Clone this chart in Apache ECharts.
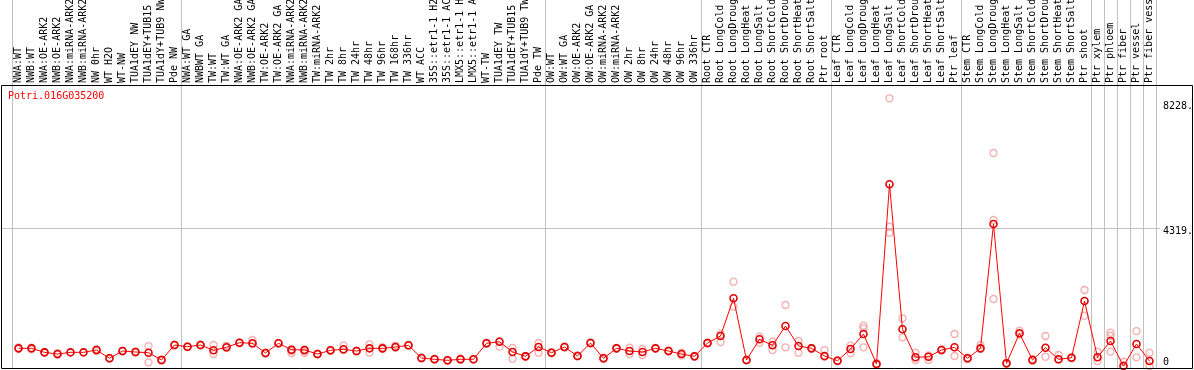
<!DOCTYPE html>
<html><head><meta charset="utf-8">
<script src="https://cdn.jsdelivr.net/npm/echarts@6/dist/echarts.min.js"></script>
<style>html,body{margin:0;padding:0;background:#fff}#c{width:1194px;height:370px}</style>
</head><body><div id="c"></div>
<script>
const chartTitle = 'Potri.016G035200';

const categories = [
  'NWA:WT','NWB:WT','NWA:OE-ARK2','NWB:OE-ARK2','NWA:miRNA-ARK2','NWB:miRNA-ARK2','NW 0hr','WT H2O','WT-NW','TUA1dEY NW','TUA1dEY+TUB15 NW','TUA1dY+TUB9 NW','Pde NW',
  'NWA:WT GA','NWBWT GA','TW:WT','TW:WT GA','NWA:OE-ARK2 GA','NWB:OE-ARK2 GA','TW:OE-ARK2','TW:OE-ARK2 GA','NWA:miRNA-ARK2','NWB:miRNA-ARK2','TW:miRNA-ARK2','TW 2hr','TW 8hr','TW 24hr','TW 48hr','TW 96hr','TW 168hr','TW 336hr','WT ACC','35S::etr1-1 H2O','35S::etr1-1 ACC','LMX5::etr1-1 H2O','LMX5::etr1-1 ACC','WT-TW','TUA1dEY TW','TUA1dEY+TUB15 TW','TUA1dY+TUB9 TW','Pde TW',
  'OW:WT','OW:WT GA','OW:OE-ARK2','OW:OE-ARK2 GA','OW:miRNA-ARK2','OW:miRNA-ARK2 ','OW 2hr','OW 8hr','OW 24hr','OW 48hr','OW 96hr','OW 336hr',
  'Root CTR','Root LongCold','Root LongDrought','Root LongHeat','Root LongSalt','Root ShortCold','Root ShortDrought','Root ShortHeat','Root ShortSalt','Ptr root',
  'Leaf CTR','Leaf LongCold','Leaf LongDrought','Leaf LongHeat','Leaf LongSalt','Leaf ShortCold','Leaf ShortDrought','Leaf ShortHeat','Leaf ShortSalt','Ptr leaf',
  'Stem CTR','Stem LongCold','Stem LongDrought','Stem LongHeat','Stem LongSalt','Stem ShortCold','Stem ShortDrought','Stem ShortHeat','Stem ShortSalt','Ptr shoot',
  'Ptr xylem','Ptr phloem','Ptr fiber','Ptr vessel','Ptr fiber vessel'
];

const meanValues = [
  553,553,428,375,428,428,500,241,469,438,416,188,657,
  604,657,491,585,729,710,407,710,510,500,375,491,522,469,553,553,594,647,250,210,178,210,210,710,760,438,303,594,
  416,594,313,719,241,553,469,438,553,469,375,303,
  719,938,2117,188,835,647,1251,625,553,313,
  166,532,1001,63,5682,1148,272,291,500,585,
  241,553,4440,84,1023,188,572,210,260,2033,
  272,782,0,688,156
];

const replicateA = [
  580,575,440,400,470,450,530,260,480,450,625,210,670,
  620,670,657,640,740,813,420,720,520,510,390,500,647,480,679,590,640,660,270,230,190,240,220,730,780,563,320,719,
  430,610,330,740,260,570,572,532,570,490,420,320,
  730,1001,2636,200,916,760,1907,782,570,500,
  180,635,1260,90,8371,1492,416,330,522,1001,
  260,657,6660,100,1104,220,938,344,280,2377,
  447,1041,134,1094,416
];

const replicateB = [
  530,520,410,350,400,410,470,230,450,420,116,170,640,
  590,640,375,560,710,690,390,700,490,490,360,470,500,450,416,530,570,630,230,200,165,190,200,690,604,228,280,416,
  400,580,300,700,220,540,375,344,540,450,330,290,
  700,750,1854,170,729,500,585,416,530,290,
  150,397,585,40,4168,897,188,188,480,313,
  220,530,2095,70,980,162,291,190,240,1573,
  156,447,20,272,0
];

const replicateExtra = [
  ['Leaf LongDrought',1179],['Leaf LongSalt',4356],['Stem LongDrought',4565],['Ptr phloem',947]
];

const groupStartIndex = [0,13,41,53,63,73,83,84,85,86,87];
const yTickValues = [0,4319,8228];
const yTickLabels = ['0','4319.','8228.'];

// plot frame spans y 86..368 for values Y_MIN..Y_MAX; the full-height grid extends the same scale up to y=0
const Y_MIN = -62, Y_MAX = 8755, Y_MAX_FULL = 11444;
const FONT = 'DejaVu Sans Mono';

const repData = [];
categories.forEach((c,i)=>{ repData.push([c, replicateA[i]]); repData.push([c, replicateB[i]]); });
replicateExtra.forEach(p=>repData.push(p));

const sepFn = (idx)=> groupStartIndex.indexOf(idx) >= 0;

const chart = echarts.init(document.getElementById('c'), null, {renderer:'canvas'});
chart.setOption({
  animation: false,
  backgroundColor: '#ffffff',
  title: {text: chartTitle, left: 8, top: 91, padding: 0,
    textStyle: {color:'#ff0000', fontSize: 10, fontWeight:'normal', fontFamily: FONT}},
  grid: [
    {left: 12, right: 38, top: 0, height: 86, containLabel:false, outerBoundsMode:'none'},
    {left: 12, right: 38, top: 0, bottom: 2, containLabel:false, outerBoundsMode:'none'},
    {left: 1, right: 34, top: 86, bottom: 2, containLabel:false, outerBoundsMode:'none'}
  ],
  xAxis: [
    {type:'category', gridIndex:0, data: categories, position:'bottom', boundaryGap:true,
     axisLine:{show:false}, axisTick:{show:false},
     axisLabel:{inside:true, rotate:90, interval:0, margin:3, fontSize:10, fontFamily:FONT, color:'#000', hideOverlap:false},
     splitLine:{show:false}},
    {type:'category', gridIndex:1, data: categories, boundaryGap:true,
     axisLine:{show:false}, axisTick:{show:false}, axisLabel:{show:false},
     splitLine:{show:true, interval: sepFn, lineStyle:{color:'#c0c0c0', width:1}}},
    {type:'value', gridIndex:2, min:0, max:1, show:false}
  ],
  yAxis: [
    {type:'value', gridIndex:0, min:0, max:1, show:false},
    {type:'value', gridIndex:1, min:Y_MIN, max:Y_MAX_FULL, show:false},
    {type:'value', gridIndex:2, min:Y_MIN, max:Y_MAX, position:'right',
     axisLine:{show:false},
     axisTick:{show:false, customValues:[4319]},
     splitLine:{show:true, lineStyle:{color:'#c0c0c0', width:1}},
     axisLabel:{customValues: yTickValues, margin:3, fontSize:10, fontFamily:FONT, color:'#000',
       formatter: v => { const i = yTickValues.indexOf(v); const t = i>=0 ? yTickLabels[i] : ''; return v===0 ? '{u|'+t+'}' : '{d|'+t+'}'; },
       rich:{ d:{padding:[8,0,0,0], fontSize:10, fontFamily:FONT, color:'#000'}, u:{padding:[0,0,8,0], fontSize:10, fontFamily:FONT, color:'#000'} }}}
  ],
  series: [
    {type:'scatter', xAxisIndex:1, yAxisIndex:1, data: repData, symbol:'circle', symbolSize: 7,
     itemStyle:{color:'rgba(0,0,0,0)', borderColor:'#f09a9a', borderWidth:1.3}, z:2, silent:true},
    {type:'line', xAxisIndex:1, yAxisIndex:1, data: meanValues, symbol:'circle', symbolSize: 7, showAllSymbol:true,
     lineStyle:{color:'#ff0000', width:1}, itemStyle:{color:'rgba(0,0,0,0)', borderColor:'#e00000', borderWidth:1.6}, z:3, silent:true}
  ],
  graphic: [
    {type:'rect', shape:{x:1.5, y:85.5, width:1191, height:283}, style:{fill:null, stroke:'#000', lineWidth:1}, silent:true, z:100}
  ]
});
</script></body></html>
